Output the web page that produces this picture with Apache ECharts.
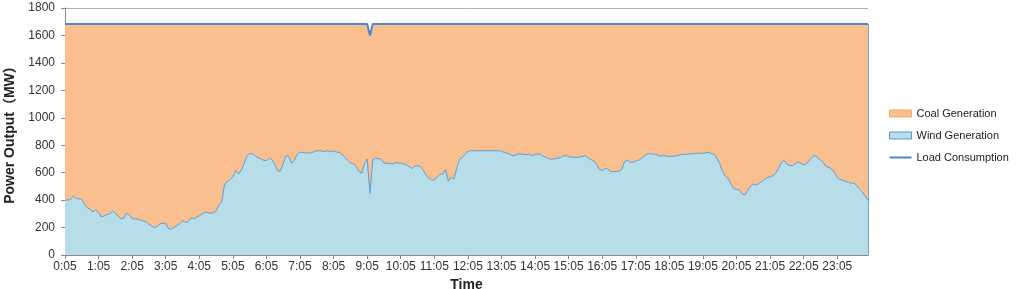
<!DOCTYPE html>
<html>
<head>
<meta charset="utf-8">
<script src="https://cdn.jsdelivr.net/npm/echarts@6/dist/echarts.min.js"></script>
<style>
  html, body { margin: 0; padding: 0; background: #fff; }
  #chart { width: 1024px; height: 289px; }
</style>
</head>
<body>
<div id="chart"></div>
<script>
// wind output, one value per 5 minutes, 0:05 .. 24:00 (12 per row = 1 hour)
const wind = [
  400, 400, 405, 430, 412, 410, 405, 370, 345, 330, 315, 330,
  310, 278, 285, 295, 300, 322, 305, 282, 265, 270, 305, 290,
  267, 262, 262, 255, 248, 240, 225, 212, 200, 210, 228, 230,
  232, 192, 190, 202, 215, 228, 250, 238, 240, 270, 265, 275,
  285, 300, 312, 310, 303, 308, 320, 365, 385, 510, 535, 550,
  570, 615, 590, 620, 665, 720, 740, 737, 722, 708, 700, 690,
  688, 705, 695, 660, 612, 612, 668, 722, 720, 668, 690, 735,
  750, 746, 745, 742, 745, 752, 760, 760, 757, 755, 760, 752,
  758, 750, 748, 735, 712, 690, 670, 668, 645, 612, 595, 660,
  700, 450, 695, 705, 702, 698, 670, 668, 668, 662, 672, 672,
  668, 665, 655, 645, 630, 648, 650, 645, 620, 585, 560, 548,
  546, 570, 588, 590, 622, 538, 568, 552, 632, 695, 710, 735,
  755, 760, 760, 760, 760, 760, 760, 760, 760, 760, 760, 760,
  755, 748, 742, 735, 722, 728, 736, 736, 733, 730, 737, 722,
  734, 735, 733, 718, 712, 700, 698, 702, 705, 708, 722, 724,
  718, 712, 712, 712, 714, 718, 725, 705, 695, 685, 660, 625,
  615, 630, 628, 608, 608, 608, 610, 622, 680, 692, 675, 676,
  686, 690, 702, 720, 735, 738, 736, 733, 728, 720, 725, 720,
  717, 720, 722, 726, 730, 734, 733, 738, 736, 740, 742, 740,
  742, 744, 748, 738, 736, 705, 665, 610, 575, 560, 520, 484,
  478, 475, 445, 438, 470, 500, 517, 510, 520, 535, 550, 565,
  570, 578, 595, 630, 672, 690, 662, 652, 652, 665, 678, 668,
  656, 665, 690, 712, 726, 712, 690, 675, 643, 640, 628, 600,
  565, 550, 545, 535, 530, 522, 525, 505, 480, 460, 430, 400
];

// load is flat all day except one short dip just after 9:05
const loadLevel = 1683;
const loadDipIndex = 109;
const loadDipValue = 1600;

const yTicks = [0, 200, 400, 600, 800, 1000, 1200, 1400, 1600, 1800];

// time labels 0:05, 0:10 ... 24:00
const times = [];
for (let m = 5; m <= 24 * 60; m += 5) {
  times.push(Math.floor(m / 60) + ":" + String(m % 60).padStart(2, "0"));
}

const load = wind.map((v, i) => (i === loadDipIndex ? loadDipValue : loadLevel));
const coal = wind.map((v, i) => load[i] - v);
const lastTime = times[times.length - 1];

const font = "'Liberation Sans', 'Noto Sans CJK SC', sans-serif";

let myChart = echarts.init(document.getElementById("chart"));
myChart.setOption({
  animation: false,
  textStyle: { fontFamily: font },
  grid: { left: 65, top: 8, width: 803, height: 247, containLabel: false, outerBoundsMode: "none" },
  legend: {
    orient: "vertical",
    left: 884,
    top: 103,
    itemWidth: 22,
    itemHeight: 7,
    itemGap: 11,
    textStyle: { fontSize: 11, color: "#222", fontFamily: font },
    data: [
      { name: "Coal Generation", icon: "rect", itemStyle: { color: "#f9bf8f", borderColor: "#f0a868", borderWidth: 1 } },
      { name: "Wind Generation", icon: "rect", itemStyle: { color: "#b7dde8", borderColor: "#5b9bd5", borderWidth: 1 } },
      { name: "Load Consumption", icon: "path://M0,0 L22,0 L22,2 L0,2 Z", itemStyle: { color: "#4f86cf" } }
    ]
  },
  xAxis: {
    type: "category",
    data: times,
    boundaryGap: false,
    name: "Time",
    nameLocation: "middle",
    nameGap: 22,
    nameTextStyle: { fontSize: 14, fontWeight: "bold", color: "#222", fontFamily: font },
    axisLine: { lineStyle: { color: "#888", width: 1 } },
    axisTick: { interval: 11, length: 4, lineStyle: { color: "#888" } },
    axisLabel: { interval: 11, fontSize: 12, color: "#333", margin: 6 },
    splitLine: { show: false }
  },
  yAxis: {
    type: "value",
    min: 0,
    max: 1800,
    interval: 200,
    name: "Power Output（MW）",
    nameLocation: "middle",
    nameGap: 47,
    nameTextStyle: { fontSize: 14, fontWeight: "bold", color: "#222", fontFamily: font },
    axisLine: { show: true, lineStyle: { color: "#888", width: 1 } },
    axisTick: { show: true, length: 4, lineStyle: { color: "#888" } },
    axisLabel: {
      fontSize: 12,
      color: "#333",
      margin: 10,
      formatter: function (v) { return yTicks.indexOf(v) >= 0 ? String(v) : ""; }
    },
    splitLine: {
      show: true,
      lineStyle: {
        color: ["transparent", "transparent", "transparent", "transparent", "transparent",
                "transparent", "transparent", "transparent", "transparent", "#b0b0b0"]
      }
    }
  },
  series: [
    {
      name: "Wind Generation",
      type: "line",
      stack: "total",
      data: wind,
      symbol: "none",
      lineStyle: { color: "#5b9bd5", width: 1 },
      itemStyle: { color: "#b7dde8" },
      areaStyle: { color: "#b7dde8", opacity: 1 },
      z: 3
    },
    {
      name: "Coal Generation",
      type: "line",
      stack: "total",
      data: coal,
      symbol: "none",
      lineStyle: { width: 0 },
      itemStyle: { color: "#f9bf8f" },
      areaStyle: { color: "#f9bf8f", opacity: 1 },
      z: 2
    },
    {
      name: "Load Consumption",
      type: "line",
      data: load,
      symbol: "none",
      lineStyle: { color: "#4f86cf", width: 2 },
      itemStyle: { color: "#4f86cf" },
      z: 4,
      // closing edge at the end of the day, as in the original
      markLine: {
        silent: true,
        symbol: "none",
        label: { show: false },
        lineStyle: { color: "#6fa3dc", width: 1, type: "solid" },
        data: [[{ coord: [lastTime, 0] }, { coord: [lastTime, loadLevel] }]]
      }
    }
  ]
});
</script>
</body>
</html>
